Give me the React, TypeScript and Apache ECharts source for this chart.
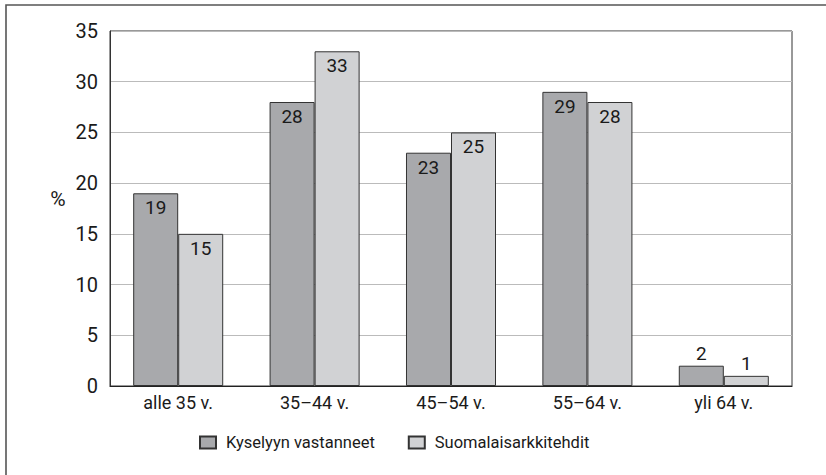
import React, { useEffect, useRef } from "react";
import * as echarts from "echarts";

const categories = ["alle 35 v.", "35–44 v.", "45–54 v.", "55–64 v.", "yli 64 v."];
const seriesNames = ["Kyselyyn vastanneet", "Suomalaisarkkitehdit"];
const respondents = [19, 28, 23, 29, 2];
const architects = [15, 33, 25, 28, 1];
const yTicks = { min: 0, max: 35, interval: 5 };
const yName = "%";

const FONT = "Roboto, sans-serif";
const TEXT = "#1a1a1a";

function toData(values: number[]) {
  return values.map((v) => ({
    value: v,
    label: v < 5 ? { position: "top", distance: 3 } : { position: "insideTop", distance: 5 },
  }));
}

export default function App() {
  const ref = useRef<HTMLDivElement>(null);
  useEffect(() => {
    if (!ref.current) return;
    const chart = echarts.init(ref.current, undefined, { renderer: "svg" });
    const barLabel = {
      show: true,
      color: TEXT,
      fontFamily: FONT,
      fontSize: 19,
    };
    chart.setOption({
      animation: false,
      backgroundColor: "#fff",
      textStyle: { fontFamily: FONT },
      grid: {
        left: 110,
        right: 34,
        top: 31,
        bottom: 89,
        show: true,
        borderColor: "#333",
        borderWidth: 1,
      },
      graphic: [
        {
          type: "rect",
          shape: { x: 6, y: 5, width: 840, height: 490 },
          style: { fill: "none", stroke: "#555", lineWidth: 1.6 },
          silent: true,
        },
        {
          type: "text",
          x: 58,
          y: 199,
          style: {
            text: yName,
            fontFamily: FONT,
            fontSize: 21,
            fill: TEXT,
            align: "center",
            verticalAlign: "middle",
          },
        },
      ],
      legend: {
        left: 194,
        top: 429,
        icon: "rect",
        itemWidth: 16,
        itemHeight: 12,
        itemGap: 33,
        data: seriesNames,
        textStyle: {
          fontFamily: FONT,
          fontSize: 16.5,
          color: TEXT,
          padding: [0, 0, 0, 5],
        },
      },
      xAxis: {
        type: "category",
        data: categories,
        axisLine: { show: true, lineStyle: { color: "#222", width: 1.2 } },
        axisTick: { show: false },
        axisLabel: { color: TEXT, fontFamily: FONT, fontSize: 18, margin: 7 },
      },
      yAxis: {
        type: "value",
        min: yTicks.min,
        max: yTicks.max,
        interval: yTicks.interval,
        axisLine: { show: true, lineStyle: { color: "#333", width: 1 } },
        axisTick: { show: false },
        splitLine: { show: true, lineStyle: { color: "#bbbbbb", width: 1 } },
        axisLabel: {
          color: TEXT,
          fontFamily: FONT,
          fontSize: 20,
          margin: 12,
          padding: [9, 0, 0, 0],
        },
      },
      series: [
        {
          name: seriesNames[0],
          type: "bar",
          data: toData(respondents),
          barGap: "0%",
          barCategoryGap: "34%",
          itemStyle: { color: "#a8a9ac", borderColor: "#333", borderWidth: 1 },
          label: barLabel,
        },
        {
          name: seriesNames[1],
          type: "bar",
          data: toData(architects),
          barGap: "0%",
          barCategoryGap: "34%",
          itemStyle: { color: "#d1d2d4", borderColor: "#333", borderWidth: 1 },
          label: barLabel,
        },
      ],
    });
    return () => chart.dispose();
  }, []);
  return (
    <div
      ref={ref}
      style={{ position: "fixed", left: 0, top: 0, width: 826, height: 475 }}
    />
  );
}
